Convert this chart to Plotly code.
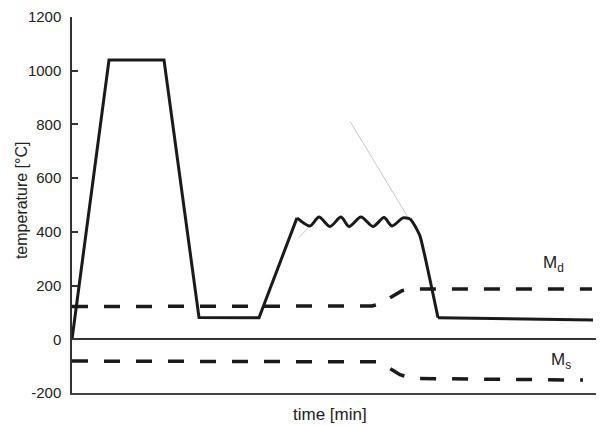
import plotly.graph_objects as go

# Main temperature path (time in arbitrary units, temperature in °C)
main_t1 = [0, 37, 92, 127, 187, 225]
main_T1 = [0, 1040, 1040, 81, 80, 452]

wave_t = [225, 238, 247, 258, 269, 277, 289, 301, 312, 320, 331, 338]
wave_T = [452, 422, 455, 420, 455, 420, 455, 420, 453, 422, 452, 449]

drop_t = [338, 341, 344, 348, 366]
drop_T = [449, 434, 415, 385, 80]

main_t3 = [366, 521]
main_T3 = [80, 72]

# Md and Ms curves
md_t = [0, 293, 300, 308, 315, 323, 330, 338, 520]
md_T = [122, 122, 124, 132, 148, 168, 181, 187, 187]
ms_t = [0, 298, 305, 312, 320, 328, 337, 345, 511]
ms_T = [-81, -81, -84, -95, -114, -132, -142, -146, -152]

# thin grey construction lines
grey_t = [278, 335, None, 227, 237, None, 316, 321]
grey_T = [812, 460, None, 378, 419, None, 412, 430]

y_ticks = [-200, 0, 200, 400, 600, 800, 1000, 1200]
y_labels = ["-200", "0", "200", "400", "600", "800", "1000", "1200"]

FONT = "Liberation Sans"
black = "#1a1a1a"

fig = go.Figure()
fig.add_trace(go.Scatter(x=grey_t, y=grey_T, mode="lines",
                         line=dict(color="#c8c8c8", width=1), hoverinfo="skip"))
fig.add_trace(go.Scatter(x=md_t, y=md_T, mode="lines",
                         line=dict(color=black, width=3.5, dash="16px,16px")))
fig.add_trace(go.Scatter(x=ms_t, y=ms_T, mode="lines",
                         line=dict(color=black, width=3.5, dash="16px,16px")))
fig.add_trace(go.Scatter(x=main_t1, y=main_T1, mode="lines",
                         line=dict(color=black, width=3)))
fig.add_trace(go.Scatter(x=wave_t, y=wave_T, mode="lines",
                         line=dict(color=black, width=3, shape="spline", smoothing=0.8)))
fig.add_trace(go.Scatter(x=drop_t, y=drop_T, mode="lines",
                         line=dict(color=black, width=3, shape="spline", smoothing=0.5)))
fig.add_trace(go.Scatter(x=main_t3, y=main_T3, mode="lines",
                         line=dict(color=black, width=3)))

fig.add_annotation(x=481, y=281, text="M<sub>d</sub>", showarrow=False,
                   font=dict(size=17, color="#222", family=FONT))
fig.add_annotation(x=489, y=-82, text="M<sub>s</sub>", showarrow=False,
                   font=dict(size=17, color="#222", family=FONT))

# axis titles
fig.add_annotation(xref="paper", yref="paper", x=-0.0959, y=0.513, text="temperature [°C]",
                   xanchor="center", yanchor="middle",
                   textangle=-90, showarrow=False, font=dict(size=16, color="#222", family=FONT))
fig.add_annotation(xref="paper", yref="paper", x=0.485, y=-0.0585, text="time [min]",
                   xanchor="center", yanchor="middle",
                   showarrow=False, font=dict(size=17, color="#222", family=FONT))

# page body has an 8px default margin, so offsets are compensated here
fig.update_layout(
    width=596, height=417,
    margin=dict(l=64, r=0, t=9, b=32, autoexpand=False),
    paper_bgcolor="white", plot_bgcolor="white",
    showlegend=False,
    font=dict(family=FONT, size=14, color="#222"),
    xaxis=dict(range=[0, 532], showticklabels=False, ticks="", showgrid=False,
               zeroline=False, showline=True, linecolor="#444", linewidth=2,
               automargin=False),
    yaxis=dict(range=[-200, 1200], tickvals=y_ticks, ticktext=y_labels,
               ticks="inside", ticklen=6, ticklabelstandoff=6,
               tickcolor="#333", tickwidth=1.5, showgrid=False,
               zeroline=True, zerolinecolor="#333", zerolinewidth=1.5,
               showline=True, linecolor="#333", linewidth=1.5,
               tickfont=dict(size=15, family=FONT, color="#222"),
               automargin=False),
)

fig.write_html("out.html")
